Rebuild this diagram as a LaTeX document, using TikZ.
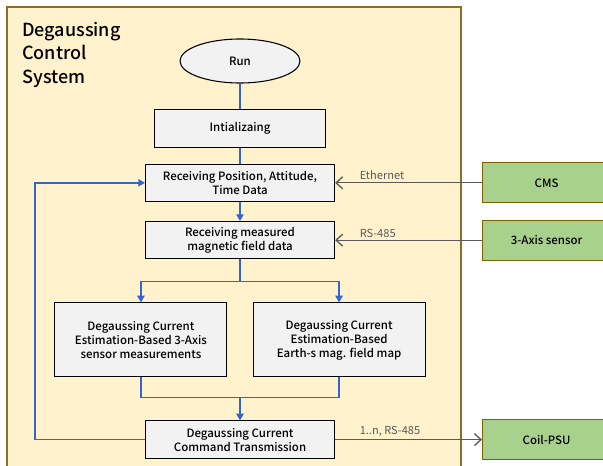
\documentclass[tikz,border=0pt]{standalone}
\usepackage{fontspec}
\setmainfont{Noto Sans CJK KR}[BoldFont={Noto Sans CJK KR Medium}]
\usetikzlibrary{arrows.meta,positioning,shapes.geometric}

\definecolor{panelfill}{HTML}{FFF2CC}
\definecolor{paneldraw}{HTML}{8C6D2C}
\definecolor{boxfill}{HTML}{F2F2F2}
\definecolor{greenfill}{HTML}{A9D18E}
\definecolor{greendraw}{HTML}{7F6000}
\definecolor{flowblue}{HTML}{3366CC}
\definecolor{linkgray}{HTML}{5A5A5A}

\begin{document}
\begin{tikzpicture}[
    x=0.75pt, y=-0.75pt,
    proc/.style={draw=black, fill=boxfill, line width=0.8pt, align=center, inner sep=0pt, font=\fontsize{8.6}{10.5}\selectfont\bfseries},
    wide/.style={proc, minimum width=141.75pt, minimum height=28pt},
    est/.style={proc, minimum width=129pt, minimum height=55.5pt},
    start/.style={ellipse, draw=black, fill=boxfill, line width=0.8pt, minimum width=90pt, minimum height=33pt, inner sep=0pt, font=\fontsize{8.6}{10.5}\selectfont\bfseries},
    ext/.style={draw=greendraw, fill=greenfill, line width=0.8pt, minimum width=96pt, minimum height=30pt, inner sep=0pt, font=\fontsize{8.6}{10.5}\selectfont\bfseries},
    flow/.style={draw=flowblue, line width=1.1pt},
    flowarrow/.style={flow, -{Triangle[length=5pt, width=5.5pt]}},
    link/.style={draw=linkgray, line width=1pt, -{Straight Barb[length=5pt, width=9pt]}},
    linklabel/.style={anchor=south west, inner sep=1.5pt, text=linkgray, font=\fontsize{8.3}{10}\selectfont},
    title/.style={align=left, inner sep=0pt, font=\fontsize{13.5}{17.6}\selectfont\bfseries},
]
\useasboundingbox (0,0) rectangle (603,465);

% ── Panel ──
\draw[draw=paneldraw, fill=panelfill, line width=1pt] (7,7) rectangle (461,472);
\node[title, anchor=north west] (title) at (22,22) {Degaussing\\Control\\System};

% ── Flow ──
\node[start] (run) at (240,61) {Run};
\node[proc, minimum width=128.25pt, minimum height=28.5pt, below=18.75pt of run] (init) {Intializaing};
\node[wide, below=12pt of init] (recv) {Receiving Position, Attitude,\\Time Data};
\node[wide, below=14.25pt of recv] (meas) {Receiving measured\\magnetic field data};
\node[est, below left=32.25pt and 9.4pt of meas.south] (est3) {Degaussing Current\\Estimation-Based 3-Axis\\sensor measurements};
\node[est, below right=32.25pt and 9.4pt of meas.south] (estmap) {Degaussing Current\\Estimation-Based\\Earth-s mag. field map};
\node[wide, below=120.75pt of meas] (cmd) {Degaussing Current\\Command Transmission};

% ── External units ──
\node[ext, right=110.25pt of recv] (cms) {CMS};
\node[ext, right=110.25pt of meas] (axis) {3-Axis sensor};
\node[ext, right=110.25pt of cmd] (psu) {Coil-PSU};

% ── Arrows ──
\coordinate[below=16.5pt of meas.south] (split);
\coordinate[above=17.25pt of cmd.north] (join);
\draw[flow] (run) -- (init);
\draw[flow] (init) -- (recv);
\draw[flowarrow] (recv) -- (meas);
\draw[flow] (meas) -- (split);
\draw[flowarrow] (split) -| (est3.north);
\draw[flowarrow] (split) -| (estmap.north);
\draw[flow] (est3.south) |- (join) -| (estmap.south);
\draw[flowarrow] (join) -- (cmd);
\draw[flowarrow] (cmd.west) -- ++(-110,0) |- (recv.west);

\draw[link] (cms) -- node[linklabel, pos=0.85] {Ethernet} (recv);
\draw[link] (axis) -- node[linklabel, pos=0.85] {RS-485} (meas);
\draw[link] (cmd) -- node[linklabel, pos=0.15] {1..n, RS-485} (psu);

\end{tikzpicture}
\end{document}
